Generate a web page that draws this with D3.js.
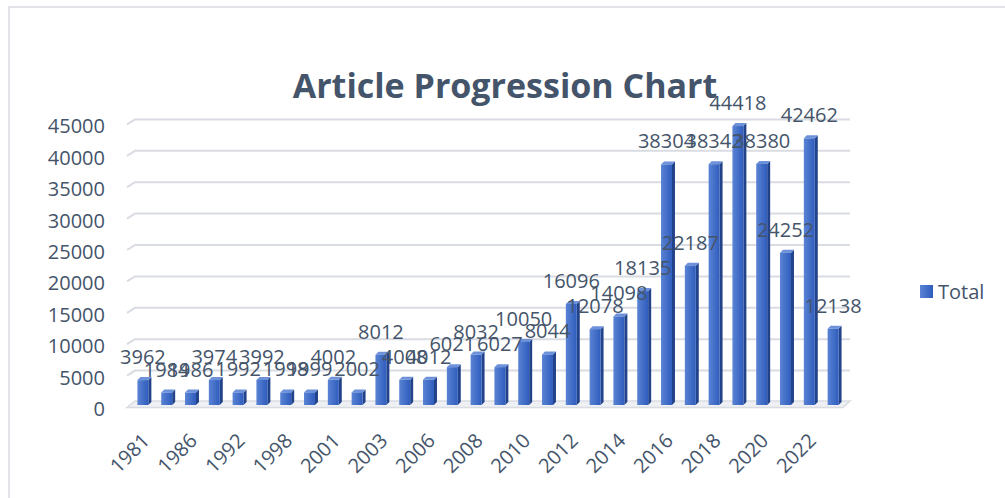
<!DOCTYPE html>
<html>
<head>
<meta charset="utf-8">
<script src="https://cdn.jsdelivr.net/npm/d3@7"></script>
<style>
  html, body { margin: 0; padding: 0; background: #fff; }
  svg { display: block; font-family: "Open Sans", sans-serif; }
</style>
</head>
<body>
<figure id="chart" style="margin:0"></figure>
<script>
// data
const years = ["1981", "1984", "1986", "1987", "1992", "1996", "1998", "1999", "2001", "2002",
  "2003", "2004", "2006", "2007", "2008", "2009", "2010", "2011", "2012", "2013",
  "2014", "2015", "2016", "2017", "2018", "2019", "2020", "2021", "2022", "2023"];
const totals = [3962, 1984, 1986, 3974, 1992, 3992, 1998, 1999, 4002, 2002,
  8012, 4008, 4012, 6021, 8032, 6027, 10050, 8044, 16096, 12078,
  14098, 18135, 38304, 22187, 38342, 44418, 38380, 24252, 42462, 12138];
const yTicks = [0, 5000, 10000, 15000, 20000, 25000, 30000, 35000, 40000, 45000];
const seriesName = "Total";
const chartTitle = "Article Progression Chart";

const width = 1005, height = 498;
const textColor = "#44546a";
const gridColor = "#d9dce2";

const svg = d3.select("#chart")
  .append("svg")
  .attr("width", width)
  .attr("height", height);

// gradients for the 3d bars
const defs = svg.append("defs");
const grad = defs.append("linearGradient").attr("id", "barFront")
  .attr("x1", "0").attr("x2", "1").attr("y1", "0").attr("y2", "0");
grad.append("stop").attr("offset", "0%").attr("stop-color", "#5a83d4");
grad.append("stop").attr("offset", "100%").attr("stop-color", "#2f5dbd");

// chart frame
svg.append("rect")
  .attr("x", 9).attr("y", 7)
  .attr("width", width + 10).attr("height", height + 10)
  .attr("fill", "none")
  .attr("stroke", gridColor)
  .attr("stroke-width", 1.5);

const x = d3.scaleBand()
  .domain(years)
  .range([131, 845])
  .paddingInner(0.54)
  .paddingOuter(0.27);

const y = d3.scaleLinear()
  .domain([0, 45000])
  .range([405, 122.4]);

const depth = 4;
const gridLeft = 127, gridRight = 850;

// gridlines with the little 3d wall corner on the left
const grid = svg.append("g").attr("class", "grid");
yTicks.forEach(v => {
  const yy = y(v);
  if (v === 0) {
    grid.append("path")
      .attr("d", `M${gridLeft},${yy + 2.5} L${gridLeft + 8},${yy - 4} L${gridRight},${yy - 4} L${gridRight - 7},${yy + 2.5} Z`)
      .attr("fill", "#eef0f3")
      .attr("stroke", gridColor)
      .attr("stroke-width", 1.5);
  } else {
    grid.append("path")
      .attr("d", `M${gridLeft},${yy + 2} L${gridLeft + 8},${yy - 3} L${gridRight},${yy - 3}`)
      .attr("fill", "none")
      .attr("stroke", gridColor)
      .attr("stroke-width", 2);
  }
});

// y axis labels
svg.append("g")
  .selectAll("text")
  .data(yTicks)
  .join("text")
  .attr("x", 105)
  .attr("y", d => y(d) + 4)
  .attr("dy", "0.35em")
  .attr("text-anchor", "end")
  .attr("fill", textColor)
  .style("font-size", "20px")
  .text(d => d);

// bars
const bw = x.bandwidth();
const bars = svg.append("g").attr("class", "bars")
  .selectAll("g")
  .data(years.map((yr, i) => ({ yr, v: totals[i] })))
  .join("g");

bars.append("path")
  .attr("d", d => {
    const x0 = x(d.yr) + bw, y0 = y(d.v), y1 = y(0);
    return `M${x0},${y0} L${x0 + depth - 1},${y0 - depth + 1} L${x0 + depth - 1},${y1 - depth + 1} L${x0},${y1} Z`;
  })
  .attr("fill", "#22438a");

bars.append("path")
  .attr("d", d => {
    const x0 = x(d.yr), y0 = y(d.v);
    return `M${x0},${y0} L${x0 + depth - 1},${y0 - depth + 1} L${x0 + bw + depth - 1},${y0 - depth + 1} L${x0 + bw},${y0} Z`;
  })
  .attr("fill", "#6d92da");

bars.append("rect")
  .attr("x", d => x(d.yr))
  .attr("y", d => y(d.v))
  .attr("width", bw)
  .attr("height", d => y(0) - y(d.v))
  .attr("fill", "url(#barFront)");

// data labels
svg.append("g")
  .selectAll("text")
  .data(years.map((yr, i) => ({ yr, v: totals[i] })))
  .join("text")
  .attr("x", d => x(d.yr) + bw / 2)
  .attr("y", d => y(d.v) - 16)
  .attr("text-anchor", "middle")
  .attr("fill", textColor)
  .style("font-size", "20px")
  .text(d => d.v);

// x axis labels, every other year
svg.append("g")
  .selectAll("text")
  .data(years.filter((d, i) => i % 2 === 0))
  .join("text")
  .attr("transform", d => `translate(${x(d) + bw / 2 + 3},${437}) rotate(-45)`)
  .attr("text-anchor", "end")
  .attr("dy", "0.35em")
  .attr("fill", textColor)
  .style("font-size", "20px")
  .text(d => d);

// title
svg.append("text")
  .attr("x", 505)
  .attr("y", 98)
  .attr("text-anchor", "middle")
  .attr("fill", textColor)
  .style("font-size", "34px")
  .style("font-weight", "bold")
  .text(chartTitle);

// legend
svg.append("rect")
  .attr("x", 920).attr("y", 285)
  .attr("width", 13).attr("height", 13)
  .attr("fill", "url(#barFront)");
svg.append("text")
  .attr("x", 938).attr("y", 299)
  .attr("fill", textColor)
  .style("font-size", "20px")
  .text(seriesName);
</script>
</body>
</html>
